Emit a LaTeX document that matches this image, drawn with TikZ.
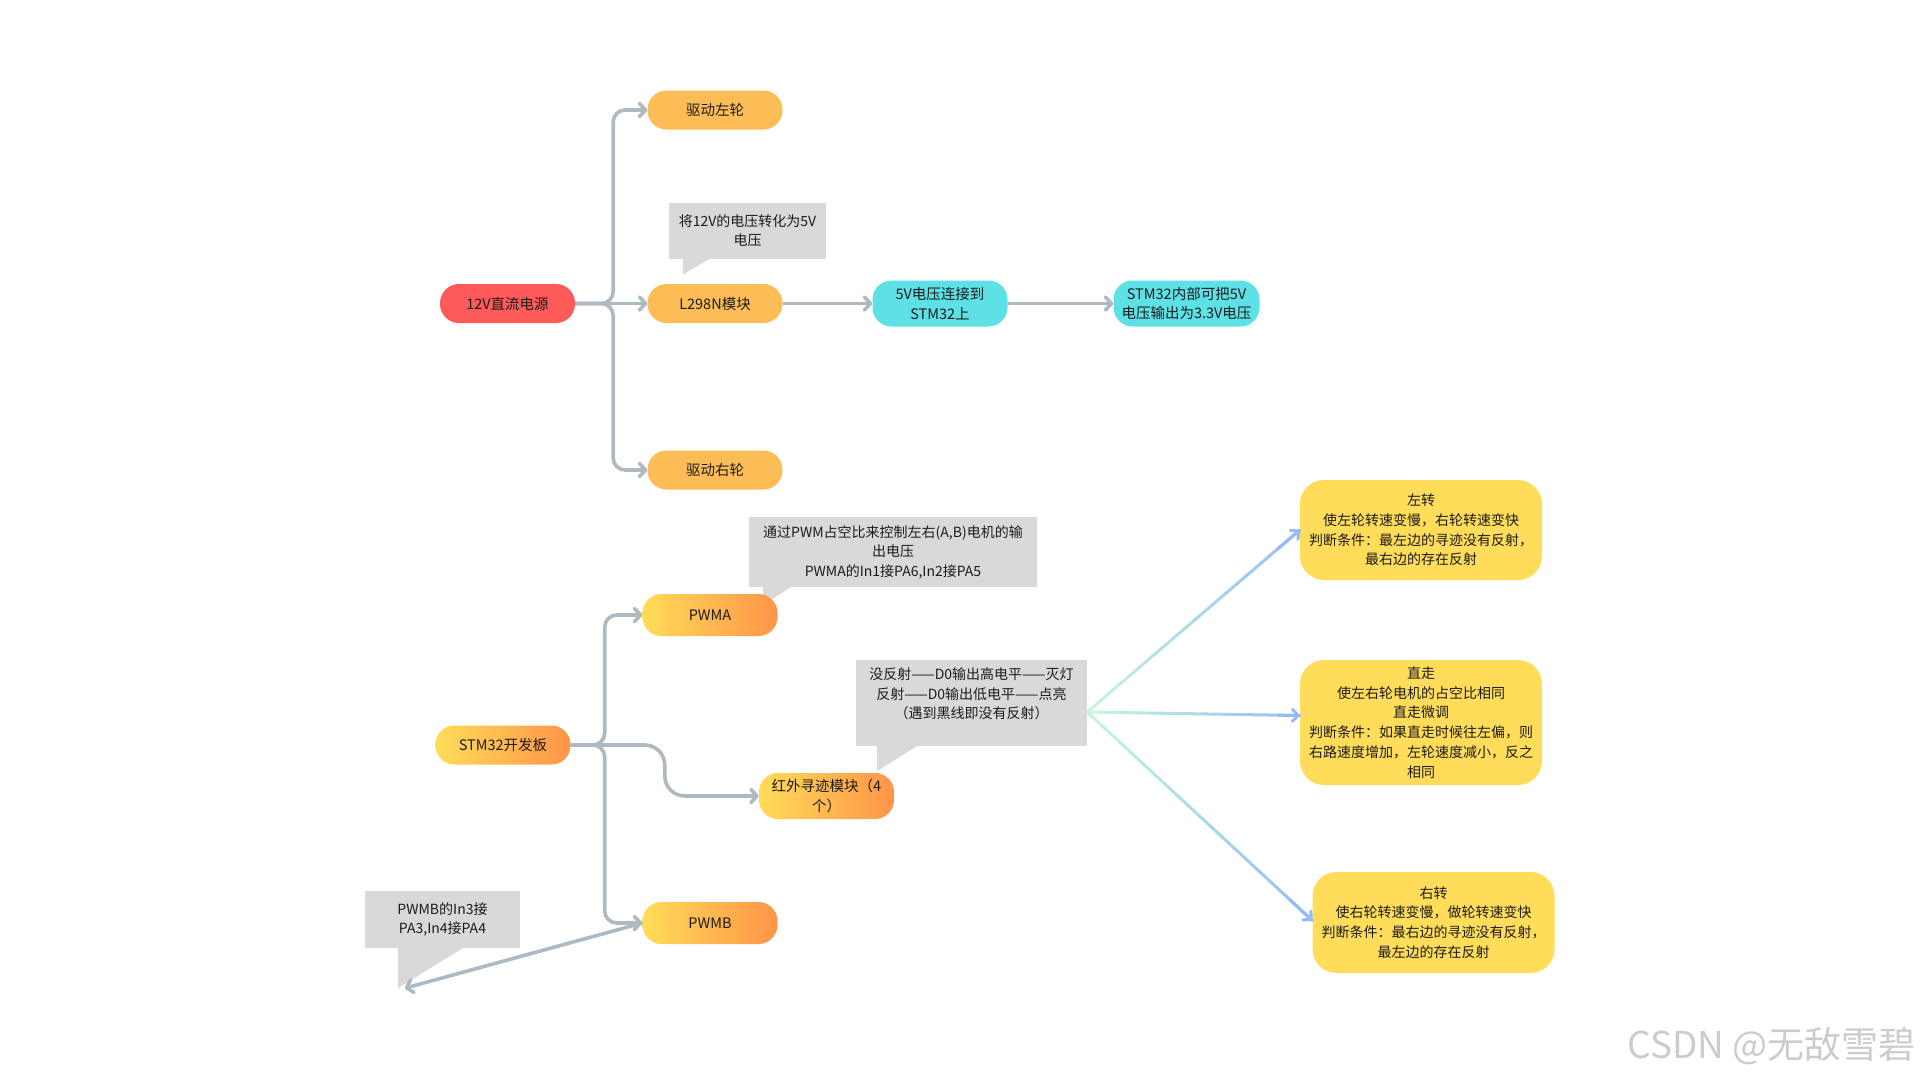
\documentclass[tikz,border=0pt]{standalone}
\usepackage{fontspec}
\setmainfont{Noto Sans CJK SC}
\usetikzlibrary{arrows.meta,calc}
\definecolor{rootred}{HTML}{FF5A5A}
\definecolor{branch}{HTML}{FDBD56}
\definecolor{cyanbox}{HTML}{5EE1E6}
\definecolor{gradA}{HTML}{FFDC58}
\definecolor{gradB}{HTML}{FF9449}
\definecolor{leaf}{HTML}{FFDC5A}
\definecolor{note}{HTML}{D9D9D9}
\definecolor{wire}{HTML}{AEB9C2}
\definecolor{mint}{HTML}{C6F6D9}
\definecolor{sky}{HTML}{94BBF8}
\definecolor{ink}{HTML}{1C1C1C}

\begin{document}
\begin{tikzpicture}[x=1pt, y=-1pt,
	every node/.style={font=\fontsize{14.5}{19.5}\selectfont, text=ink, align=center, inner sep=0pt},
	topic/.style={rounded corners=19pt, minimum width=135pt, minimum height=39pt},
	grad/.style={topic, left color=gradA, right color=gradB},
	leafbox/.style={fill=leaf, rounded corners=24pt, minimum width=242pt, font=\fontsize{14}{19.7}\selectfont},
	callbox/.style={fill=note, font=\fontsize{14}{19.5}\selectfont},
	link/.style={draw=wire, line width=3.6pt, rounded corners=12pt, -{Straight Barb[length=6pt,width=13pt,round]}},
	fan/.style={line width=3pt, line cap=round}]
	\useasboundingbox (0,0) rectangle (1920,1080);
	% callouts first, their tails stay behind the topics
	\node[callbox, minimum width=157pt, minimum height=56pt] (noteL) at (747.5,230.5) {将12V的电压转化为5V\\电压};
	\fill[note] ([xshift=14pt]noteL.south west) -- ++(0,16) -- ([xshift=41pt]noteL.south west) -- cycle;
	\node[callbox, minimum width=288pt, minimum height=70pt] (noteA) at (893,552) {通过PWM占空比来控制左右(A,B)电机的输\\出电压\\PWMA的In1接PA6,In2接PA5};
	\fill[note] ([xshift=14pt]noteA.south west) -- ++(0,18) -- ([xshift=42pt]noteA.south west) -- cycle;
	\node[callbox, minimum width=231pt, minimum height=86pt] (noteIR) at (971.5,703) {没反射——D0输出高电平——灭灯\\反射——D0输出低电平——点亮\\（遇到黑线即没有反射）\\ \mbox{}};
	\fill[note] ([xshift=21pt]noteIR.south west) -- ++(0,25) -- ([xshift=61pt]noteIR.south west) -- cycle;
	\node[callbox, minimum width=155pt, minimum height=57pt] (noteB) at (442.5,919.5) {PWMB的In3接\\PA3,In4接PA4};
	\fill[note] ([xshift=33pt]noteB.south west) -- ++(0,40) coordinate (tipB) -- ([xshift=98pt]noteB.south west) -- cycle;

	% power side
	\node[topic, fill=rootred] (power) at (507.5,303.5) {12V直流电源};
	\node[topic, fill=branch] (wheelL) at (715,110) {驱动左轮};
	\node[topic, fill=branch] (l298) at (715,303.5) {L298N模块};
	\node[topic, fill=branch] (wheelR) at (715,470) {驱动右轮};
	\node[topic, fill=cyanbox, minimum height=46pt] (fivev) at (940,303.5) {5V电压连接到\\STM32上};
	\node[topic, fill=cyanbox, minimum width=146pt, minimum height=46pt] (inner) at (1186.5,303.5) {STM32内部可把5V\\电压输出为3.3V电压};

	% board side
	\node[grad] (board) at (503,745) {STM32开发板};
	\node[grad, minimum height=42pt] (pwma) at (710,615) {PWMA};
	\node[grad, minimum height=46pt] (ir) at (826.5,796) {红外寻迹模块（4\\个）};
	\node[grad, minimum height=42pt] (pwmb) at (710,923) {PWMB};
	\node[leafbox, minimum height=100pt] (turnL) at (1421,530) {左转\\使左轮转速变慢，右轮转速变快\\判断条件：最左边的寻迹没有反射，\\最右边的存在反射};
	\node[leafbox, minimum height=125pt] (ahead) at (1421,722.5) {直走\\使左右轮电机的占空比相同\\直走微调\\判断条件：如果直走时候往左偏，则\\右路速度增加，左轮速度减小，反之\\相同};
	\node[leafbox, minimum height=101pt] (turnR) at (1433.5,922.5) {右转\\使右轮转速变慢，做轮转速变快\\判断条件：最右边的寻迹没有反射，\\最左边的存在反射};

	\draw[link] (power.east) -- ++(38,0) |- (wheelL.west);
	\draw[link] (power.east) -- (l298.west);
	\draw[link] (power.east) -- ++(38,0) |- (wheelR.west);
	\draw[link] (l298.east) -- (fivev.west);
	\draw[link] (fivev.east) -- (inner.west);
	\draw[link] (board.east) -- ++(34,0) |- (pwma.west);
	\draw[link] (board.east) -- ++(34,0) |- (pwmb.west);
	\draw[link, rounded corners=20pt] (board.east) -| ([xshift=-94pt]ir.west) -- (ir.west);
	\draw[link] (pwmb.west) -- ([xshift=7pt]tipB);

	% fan out of the tracking note, mint fading to blue
	\coordinate (fanpt) at ([yshift=-9pt]noteIR.east);
	\coordinate (toL) at (turnL.west);
	\coordinate (toA) at ([yshift=7pt]ahead.west);
	\coordinate (toR) at ([yshift=2pt]turnR.west);
	\foreach \t in {toL,toA,toR}{
		\foreach \i in {0,...,19}{
			\pgfmathsetmacro\j{\i+1}
			\pgfmathtruncatemacro\k{100-5*\i}
			\draw[fan, mint!\k!sky] ($(fanpt)!\i/20!(\t)$) -- ($(fanpt)!\j/20!(\t)$);
		}
		\draw[fan, sky, -{Straight Barb[length=6pt,width=12pt,round]}] ($(fanpt)!0.9!(\t)$) -- (\t);
	}

	\node[font=\fontsize{37}{37}\selectfont, text=gray!40, anchor=east] (mark) at (1916,1046) {CSDN @无敌雪碧};
\end{tikzpicture}
\end{document}
